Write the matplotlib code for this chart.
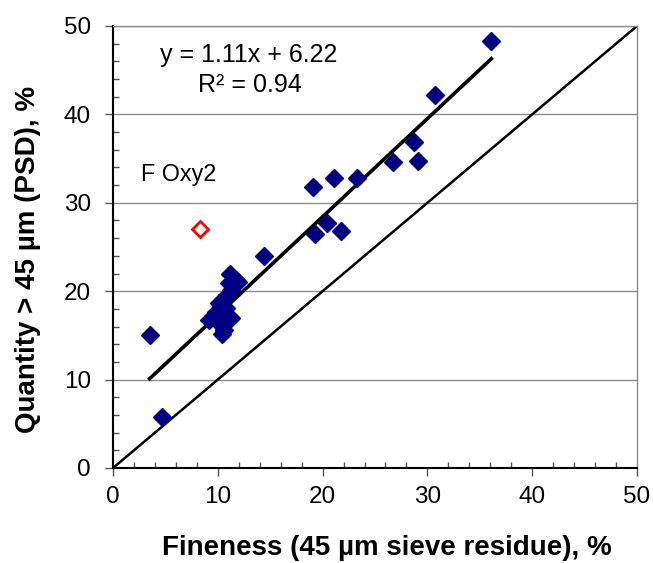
import matplotlib
matplotlib.use("Agg")
import matplotlib.pyplot as plt
from matplotlib.ticker import MultipleLocator

plt.rcParams['font.family'] = ['Liberation Sans', 'DejaVu Sans']

# Data (fineness %, quantity > 45 um %)
x_main = [3.5, 4.7, 14.4, 19.1, 21.1, 23.3, 20.45, 19.3, 21.8, 26.75, 29.1, 28.75, 30.7, 36.1,
          11.2, 11.7, 11.1, 11.3, 10.9, 10.1, 10.8, 9.8, 10.4, 9.2, 11.3, 10.0, 10.6, 10.4, 11.9]
y_main = [15.0, 5.8, 24.0, 31.8, 32.8, 32.8, 27.75, 26.5, 26.8, 34.65, 34.75, 36.9, 42.2, 48.3,
          21.9, 21.3, 20.9, 20.1, 19.6, 18.7, 18.1, 17.7, 17.5, 16.7, 17.0, 16.5, 15.6, 15.2, 21.0]
x_oxy = [8.3]
y_oxy = [27.0]
slope, intercept, r2 = 1.11, 6.22, 0.94
xticks = [0, 10, 20, 30, 40, 50]
yticks = [0, 10, 20, 30, 40, 50]

fig = plt.figure(figsize=(6.53, 5.63), dpi=100)
ax = fig.add_axes([113/653, 1-468/563, (637-113)/653, (468-26)/563])
ax.set_xlim(0, 50)
ax.set_ylim(0, 50)

for yv in yticks[1:]:
    ax.axhline(yv, color='#8c8c8c', lw=1.0, zorder=0)

# 1:1 line
ax.plot([0, 50], [0, 50], color='black', lw=1.8, zorder=2)
# regression line
xr = [min(x_main), max(x_main)]
ax.plot(xr, [slope*v + intercept for v in xr], color='black', lw=2.6, zorder=2)

ax.plot(x_main, y_main, linestyle='none', marker='D', ms=9, mfc='#000080', mec='#000080', zorder=3)
ax.plot(x_oxy, y_oxy, linestyle='none', marker='D', ms=8.5, mfc='white', mec='#ff0000', mew=2, zorder=3)

ax.set_xticks(xticks)
ax.set_yticks(yticks)
ax.xaxis.set_minor_locator(MultipleLocator(2))
ax.yaxis.set_minor_locator(MultipleLocator(2))
ax.tick_params(which='major', direction='out', length=5.8, width=1, labelsize=17.5, color='#555555')
ax.tick_params(axis='x', which='major', pad=7.5)
ax.tick_params(axis='y', which='major', pad=10)
ax.tick_params(which='minor', direction='in', length=4.3, width=1, color='#555555')

for s in ['left', 'bottom']:
    ax.spines[s].set_color('black')
    ax.spines[s].set_linewidth(1.5)
for s in ['top', 'right']:
    ax.spines[s].set_color('#8c8c8c')
    ax.spines[s].set_linewidth(1.0)

fig.text(249/653, 1-55/563, f'y = {slope}x + {intercept}', ha='center', va='center', fontsize=18)
fig.text(250/653, 1-85/563, f'R² = {r2}', ha='center', va='center', fontsize=18)
fig.text(141/653, 1-175/563, 'F Oxy2', ha='left', va='center', fontsize=16.8)

fig.text(387/653, 1-548/563, 'Fineness (45 µm sieve residue), %', ha='center', va='center',
         fontsize=20, fontweight='bold')
fig.text(28/653, 1-259/563, 'Quantity > 45 µm (PSD), %', ha='center', va='center',
         fontsize=20, fontweight='bold', rotation=90)

fig.savefig('out.png', dpi=100)
